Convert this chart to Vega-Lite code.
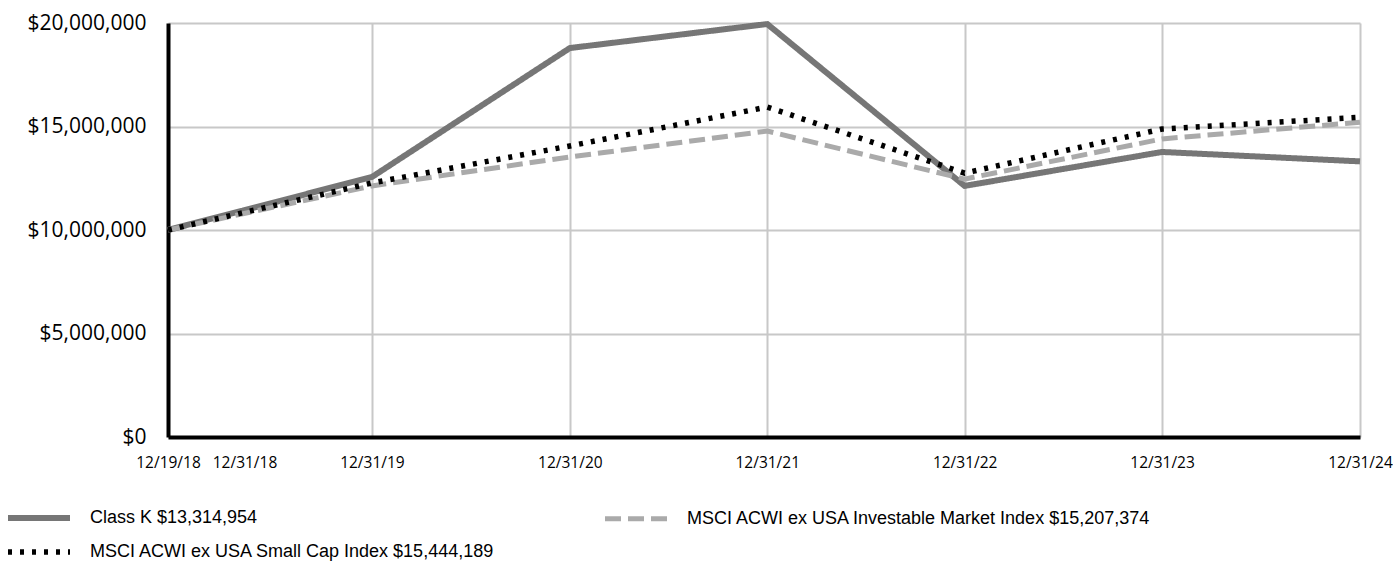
{
  "$schema": "https://vega.github.io/schema/vega-lite/v6.json",
  "width": 1192,
  "height": 414,
  "autosize": {"type": "none"},
  "padding": {"left": 168, "top": 23, "right": 33, "bottom": 127},
  "background": "white",
  "config": {
    "view": {"stroke": null},
    "font": "Open Sans"
  },
  "data": {
    "values": [
      {"date": "2018-12-19", "series": "Class K $13,314,954", "value": 10000000},
      {"date": "2019-12-31", "series": "Class K $13,314,954", "value": 12560000},
      {"date": "2020-12-31", "series": "Class K $13,314,954", "value": 18790000},
      {"date": "2021-12-31", "series": "Class K $13,314,954", "value": 19950000},
      {"date": "2022-12-31", "series": "Class K $13,314,954", "value": 12130000},
      {"date": "2023-12-31", "series": "Class K $13,314,954", "value": 13770000},
      {"date": "2024-12-31", "series": "Class K $13,314,954", "value": 13314954},
      {"date": "2018-12-19", "series": "MSCI ACWI ex USA Investable Market Index $15,207,374", "value": 10000000},
      {"date": "2019-12-31", "series": "MSCI ACWI ex USA Investable Market Index $15,207,374", "value": 12130000},
      {"date": "2020-12-31", "series": "MSCI ACWI ex USA Investable Market Index $15,207,374", "value": 13530000},
      {"date": "2021-12-31", "series": "MSCI ACWI ex USA Investable Market Index $15,207,374", "value": 14780000},
      {"date": "2022-12-31", "series": "MSCI ACWI ex USA Investable Market Index $15,207,374", "value": 12460000},
      {"date": "2023-12-31", "series": "MSCI ACWI ex USA Investable Market Index $15,207,374", "value": 14400000},
      {"date": "2024-12-31", "series": "MSCI ACWI ex USA Investable Market Index $15,207,374", "value": 15207374},
      {"date": "2018-12-19", "series": "MSCI ACWI ex USA Small Cap Index $15,444,189", "value": 10000000},
      {"date": "2019-12-31", "series": "MSCI ACWI ex USA Small Cap Index $15,444,189", "value": 12270000},
      {"date": "2020-12-31", "series": "MSCI ACWI ex USA Small Cap Index $15,444,189", "value": 14060000},
      {"date": "2021-12-31", "series": "MSCI ACWI ex USA Small Cap Index $15,444,189", "value": 15940000},
      {"date": "2022-12-31", "series": "MSCI ACWI ex USA Small Cap Index $15,444,189", "value": 12750000},
      {"date": "2023-12-31", "series": "MSCI ACWI ex USA Small Cap Index $15,444,189", "value": 14880000},
      {"date": "2024-12-31", "series": "MSCI ACWI ex USA Small Cap Index $15,444,189", "value": 15444189}
    ]
  },
  "mark": {"type": "line", "strokeCap": "butt", "strokeJoin": "miter"},
  "encoding": {
    "x": {
      "field": "date",
      "type": "temporal",
      "scale": {"type": "utc", "domain": [{"year": 2018, "month": 12, "date": 19, "utc": true}, {"year": 2024, "month": 12, "date": 31, "utc": true}]},
      "axis": {
        "title": null,
        "values": [
          {"year": 2018, "month": 12, "date": 19, "utc": true},
          {"year": 2018, "month": 12, "date": 31, "utc": true},
          {"year": 2019, "month": 12, "date": 31, "utc": true},
          {"year": 2020, "month": 12, "date": 31, "utc": true},
          {"year": 2021, "month": 12, "date": 31, "utc": true},
          {"year": 2022, "month": 12, "date": 31, "utc": true},
          {"year": 2023, "month": 12, "date": 31, "utc": true},
          {"year": 2024, "month": 12, "date": 31, "utc": true}
        ],
        "labelExpr": "utcFormat(datum.value, '%m/%d/%y')",
        "labelFont": "Open Sans",
        "labelFontSize": 15.5,
        "labelColor": "#000000",
        "labelPadding": 18,
        "labelAlign": "center",
        "labelOverlap": false,
        "labelFlush": false,
        "labelOffset": {"condition": {"test": "utcyear(datum.value) == 2018 && utcdate(datum.value) == 31", "value": 70}, "value": 0},
        "ticks": false,
        "domain": true,
        "domainColor": "#000000",
        "domainWidth": 4,
        "grid": true,
        "gridColor": "#c8c8c8",
        "gridWidth": 2,
        "gridOpacity": {"condition": {"test": "utcyear(datum.value) == 2018", "value": 0}, "value": 1}
      }
    },
    "y": {
      "field": "value",
      "type": "quantitative",
      "scale": {"domain": [0, 20000000], "nice": false},
      "axis": {
        "title": null,
        "values": [0, 5000000, 10000000, 15000000, 20000000],
        "labelExpr": "'$' + format(datum.value, ',')",
        "labelFont": "Open Sans",
        "labelFontSize": 21,
        "labelColor": "#000000",
        "labelPadding": 22,
        "ticks": false,
        "domain": true,
        "domainColor": "#000000",
        "domainWidth": 4,
        "grid": true,
        "gridColor": "#c8c8c8",
        "gridWidth": 2
      }
    },
    "color": {
      "field": "series",
      "type": "nominal",
      "scale": {
        "domain": ["Class K $13,314,954", "MSCI ACWI ex USA Small Cap Index $15,444,189", "MSCI ACWI ex USA Investable Market Index $15,207,374"],
        "range": ["#767676", "#000000", "#aaaaaa"]
      },
      "legend": {
        "title": null,
        "orient": "none",
        "legendX": -163,
        "legendY": 482,
        "columns": 2,
        "columnPadding": 99,
        "rowPadding": 9,
        "symbolType": "M-1,0L5.2,0",
        "symbolSize": 400,
        "labelFont": "Liberation Sans",
        "labelFontSize": 18,
        "labelColor": "#000000",
        "labelOffset": 59,
        "labelLimit": 0
      }
    },
    "strokeDash": {
      "field": "series",
      "type": "nominal",
      "scale": {
        "domain": ["Class K $13,314,954", "MSCI ACWI ex USA Small Cap Index $15,444,189", "MSCI ACWI ex USA Investable Market Index $15,207,374"],
        "range": [[1, 0], [4, 8], [16, 7]]
      },
      "legend": null
    },
    "strokeWidth": {
      "field": "series",
      "type": "nominal",
      "scale": {
        "domain": ["Class K $13,314,954", "MSCI ACWI ex USA Small Cap Index $15,444,189", "MSCI ACWI ex USA Investable Market Index $15,207,374"],
        "range": [6, 5, 5]
      },
      "legend": null
    }
  }
}
